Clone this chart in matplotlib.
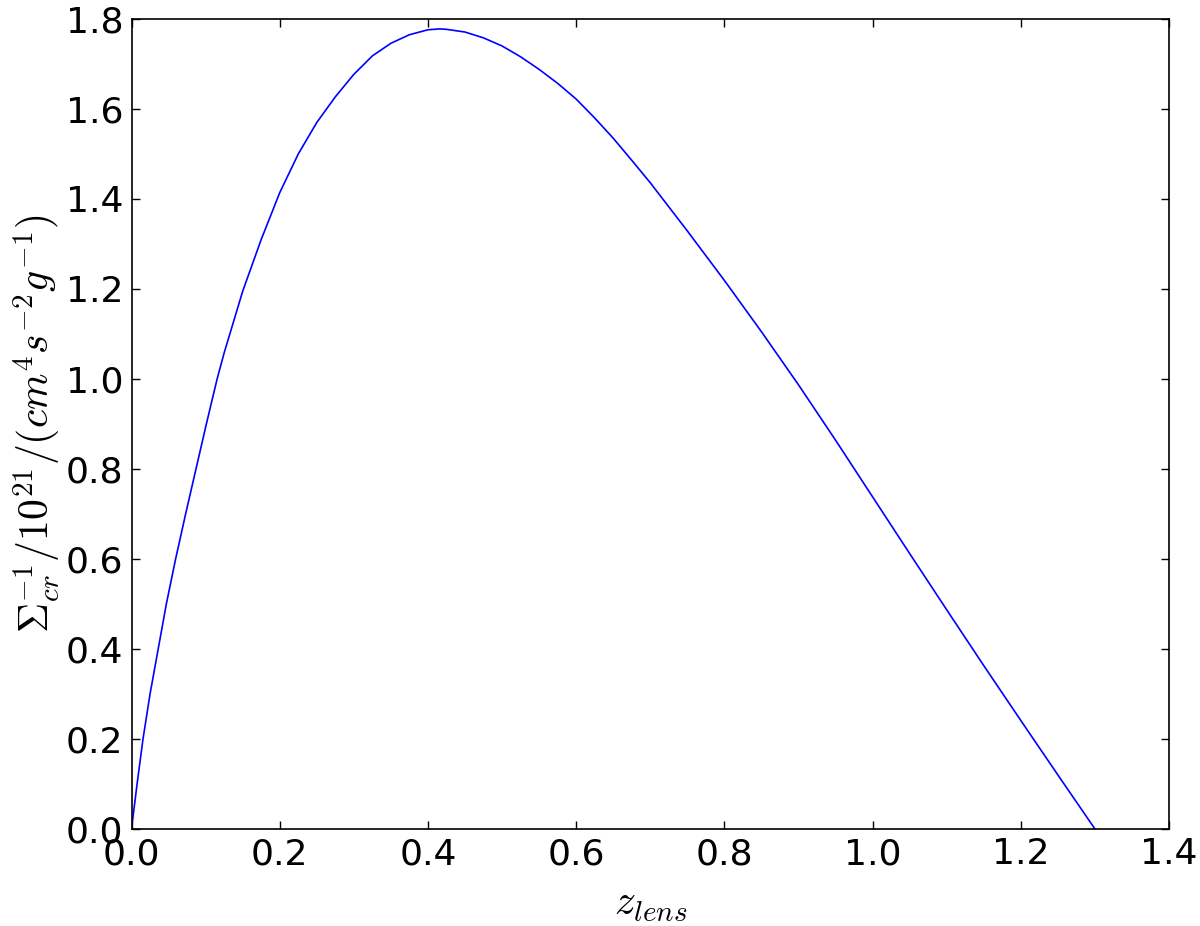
import matplotlib
matplotlib.use("Agg")
import matplotlib.pyplot as plt

# Data
z_lens = [0.0, 0.0075, 0.0155, 0.025, 0.036, 0.047, 0.0595, 0.073, 0.087, 0.101,
          0.1155, 0.125, 0.15, 0.175, 0.2, 0.225, 0.25, 0.275, 0.3, 0.325,
          0.35, 0.375, 0.4, 0.416, 0.425, 0.45, 0.475, 0.5, 0.525, 0.55,
          0.575, 0.6, 0.625, 0.65, 0.675, 0.7, 0.75, 0.8, 0.85, 0.9,
          0.95, 1.0, 1.05, 1.1, 1.15, 1.2, 1.25, 1.3]
sigma_inv = [0.0, 0.1, 0.2, 0.3, 0.4, 0.5, 0.6, 0.7, 0.8, 0.9,
             1.0, 1.058, 1.195, 1.310, 1.414, 1.50, 1.57, 1.627, 1.677, 1.718,
             1.746, 1.765, 1.776, 1.778, 1.777, 1.771, 1.758, 1.740, 1.716, 1.688,
             1.657, 1.622, 1.580, 1.535, 1.486, 1.436, 1.329, 1.219, 1.105, 0.987,
             0.864, 0.738, 0.612, 0.487, 0.363, 0.241, 0.120, 0.0]

x_ticks = [0.0, 0.2, 0.4, 0.6, 0.8, 1.0, 1.2, 1.4]
y_ticks = [0.0, 0.2, 0.4, 0.6, 0.8, 1.0, 1.2, 1.4, 1.6, 1.8]

plt.rcParams['mathtext.fontset'] = 'cm'
plt.rcParams['font.family'] = 'DejaVu Sans'

fig = plt.figure(figsize=(12, 9.26), dpi=100)
ax = fig.add_axes([0.1096, 0.1048, 0.9742 - 0.1096, 0.9795 - 0.1048])

ax.plot(z_lens, sigma_inv, color='blue', lw=1.2)

ax.set_xlim(0, 1.4)
ax.set_ylim(0, 1.8)
ax.set_xticks(x_ticks)
ax.set_yticks(y_ticks)
ax.set_xticklabels([f"{v:.1f}" for v in x_ticks])
ax.set_yticklabels([f"{v:.1f}" for v in y_ticks])
ax.tick_params(direction='in', length=6, width=1, top=True, right=True,
               labelsize=26, pad=6)
for s in ax.spines.values():
    s.set_linewidth(1.2)

ax.set_xlabel(r'$z_{lens}$', fontsize=30, labelpad=8)
ax.set_ylabel(r'$\Sigma_{cr}^{-1}/10^{21}/(cm^4s^{-2}g^{-1})$', fontsize=30, labelpad=2)

fig.savefig('out.png', dpi=100)
